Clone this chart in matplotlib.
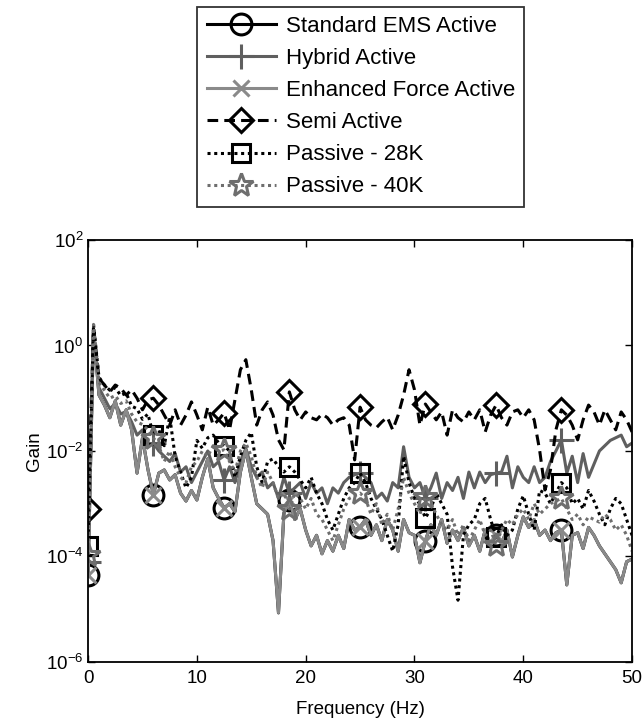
import numpy as np
import matplotlib
matplotlib.use('Agg')
import matplotlib.pyplot as plt

plt.rcParams['font.family'] = ['Liberation Sans', 'DejaVu Sans']
plt.rcParams['mathtext.fontset'] = 'custom'
plt.rcParams['mathtext.rm'] = 'Liberation Sans'
plt.rcParams['mathtext.it'] = 'Liberation Sans:italic'

# frequency axis, 0.5 Hz steps
freq = np.arange(0, 50.01, 0.5)

# log10(gain), one value every 0.5 Hz
standard_ems_log = [
    -4.35, 0.30, -0.94, -1.13, -1.37, -1.05, -1.51, -1.22, -1.60, -2.42,
    -1.75, -2.35, -2.83, -2.42, -2.36, -2.55, -2.45, -2.80, -2.95, -2.75,
    -2.93, -2.50, -2.15, -2.70, -2.90, -3.08, -3.00, -3.15, -2.40, -1.98,
    -2.50, -3.00, -3.10, -3.20, -3.70, -5.07, -3.18, -2.93, -3.30, -3.10,
    -3.50, -3.80, -3.60, -3.95, -3.70, -3.90, -3.60, -3.85, -3.30, -3.50,
    -3.44, -3.30, -3.60, -3.40, -3.70, -3.30, -3.50, -3.90, -3.30, -3.55,
    -3.60, -4.12, -3.70, -3.40, -3.60, -3.30, -3.75, -3.50, -3.70, -3.45,
    -3.80, -3.60, -3.90, -3.50, -3.80, -3.60, -3.75, -3.50, -4.01, -3.60,
    -3.25, -3.45, -3.30, -3.60, -3.50, -3.70, -3.55, -3.50, -4.54, -3.60,
    -3.55, -3.85, -3.45, -3.60, -3.80, -3.95, -4.10, -4.25, -4.50, -4.10,
    -4.05]

hybrid_log = [
    -4.10, 0.30, -0.80, -1.00, -1.20, -1.10, -1.30, -1.25, -1.45, -1.70,
    -1.60, -1.90, -1.85, -2.00, -2.10, -2.20, -2.05, -2.40, -2.30, -2.60,
    -2.40, -2.20, -2.00, -2.30, -2.20, -2.55, -2.30, -2.60, -2.20, -1.95,
    -2.30, -2.50, -2.40, -2.70, -2.60, -2.90, -2.50, -2.80, -2.70, -2.60,
    -2.90, -2.60, -2.80, -2.70, -3.00, -2.70, -2.80, -2.60, -2.50, -2.45,
    -2.42, -2.50, -2.60, -2.90, -2.80, -2.95, -2.60, -2.70, -1.92, -2.50,
    -2.70, -2.60, -2.90, -2.70, -2.42, -2.90, -2.60, -2.75, -2.50, -2.90,
    -2.40, -2.70, -2.40, -2.60, -2.45, -2.42, -2.40, -2.10, -2.70, -2.30,
    -2.50, -2.60, -2.30, -2.60, -2.50, -2.20, -2.00, -1.79, -2.42, -2.10,
    -2.60, -2.05, -2.50, -2.25, -2.00, -1.90, -1.80, -1.75, -1.70, -1.92,
    -1.85]

enhanced_force_log = [
    -4.35, 0.30, -0.94, -1.13, -1.37, -1.05, -1.51, -1.22, -1.60, -2.42,
    -1.75, -2.35, -2.83, -2.42, -2.36, -2.55, -2.45, -2.80, -2.95, -2.75,
    -2.93, -2.50, -2.15, -2.70, -2.90, -3.08, -3.00, -3.15, -2.40, -1.98,
    -2.50, -3.00, -3.10, -3.20, -3.70, -5.07, -3.18, -2.93, -3.30, -3.10,
    -3.50, -3.80, -3.60, -3.95, -3.70, -3.90, -3.60, -3.85, -3.30, -3.50,
    -3.44, -3.30, -3.60, -3.40, -3.70, -3.30, -3.50, -3.90, -3.30, -3.55,
    -3.60, -4.12, -3.70, -3.40, -3.60, -3.30, -3.75, -3.50, -3.70, -3.45,
    -3.80, -3.60, -3.90, -3.50, -3.80, -3.60, -3.75, -3.50, -4.01, -3.60,
    -3.25, -3.45, -3.30, -3.60, -3.50, -3.70, -3.55, -3.50, -4.54, -3.60,
    -3.55, -3.85, -3.45, -3.60, -3.80, -3.95, -4.10, -4.25, -4.50, -4.10,
    -4.05]

semi_active_log = [
    -3.10, 0.35, -0.62, -0.75, -0.88, -0.75, -0.81, -0.94, -0.84, -1.00,
    -1.22, -1.03, -1.00, -1.13, -1.32, -1.51, -1.22, -1.51, -1.32, -1.07,
    -1.32, -1.60, -1.17, -1.51, -1.41, -1.28, -1.60, -1.03, -0.46, -0.27,
    -0.84, -1.51, -1.22, -1.07, -1.32, -1.79, -1.98, -0.88, -1.22, -1.41,
    -1.26, -1.37, -1.41, -1.30, -1.37, -1.51, -1.41, -1.37, -1.51, -2.17,
    -1.17, -1.41, -1.51, -1.56, -1.45, -1.36, -1.60, -1.32, -0.94, -0.46,
    -0.84, -1.51, -1.11, -1.26, -1.41, -1.26, -1.70, -1.22, -1.37, -1.45,
    -1.26, -1.41, -1.22, -1.64, -1.32, -1.13, -1.37, -1.51, -1.26, -1.22,
    -1.37, -1.22, -1.41, -1.98, -2.74, -2.36, -1.60, -1.22, -1.32, -1.51,
    -1.79, -1.41, -1.13, -1.26, -1.51, -1.22, -1.41, -1.60, -1.26, -1.41,
    -1.64]

passive_28k_log = [
    -3.80, 0.40, -0.60, -0.75, -0.85, -0.80, -0.95, -0.90, -1.15, -1.20,
    -1.40, -1.30, -1.70, -1.60, -1.90, -1.35, -2.10, -2.40, -2.70, -2.50,
    -1.80, -1.95, -1.75, -1.70, -1.85, -1.90, -2.00, -2.50, -2.10, -1.80,
    -1.65, -2.30, -2.60, -2.20, -2.15, -2.30, -2.40, -2.30, -2.40, -2.55,
    -2.70, -2.50, -2.80, -3.00, -3.30, -3.50, -3.20, -2.90, -2.70, -2.60,
    -2.42, -2.60, -2.90, -3.10, -3.30, -3.60, -3.90, -3.40, -2.10, -2.60,
    -2.90, -3.00, -3.27, -3.10, -2.80, -3.00, -3.20, -4.20, -4.83, -3.60,
    -3.40, -3.30, -3.00, -2.90, -3.30, -3.63, -3.40, -3.60, -3.50, -3.10,
    -2.85, -3.20, -3.50, -2.75, -2.80, -3.00, -2.80, -2.60, -2.70, -3.00,
    -2.90, -3.10, -2.75, -2.95, -3.20, -3.40, -3.10, -2.90, -3.00, -3.30,
    -3.60]

passive_40k_log = [
    -3.97, 0.40, -0.70, -0.85, -1.00, -0.95, -1.10, -1.05, -1.30, -1.45,
    -1.50, -1.60, -1.75, -1.90, -2.20, -2.00, -2.30, -2.50, -2.60, -2.30,
    -2.20, -2.00, -2.10, -1.90, -2.00, -1.98, -2.20, -2.40, -2.00, -1.85,
    -2.10, -2.50, -2.70, -2.40, -2.60, -2.90, -2.80, -3.10, -2.80, -2.90,
    -3.10, -2.90, -3.20, -3.30, -3.50, -3.70, -3.40, -3.10, -2.90, -2.85,
    -2.80, -2.90, -3.20, -3.00, -3.40, -3.20, -3.50, -3.10, -2.50, -2.80,
    -3.00, -3.20, -2.87, -3.00, -3.20, -3.40, -3.50, -3.30, -3.60, -3.40,
    -3.70, -3.50, -3.30, -3.60, -3.50, -3.78, -3.50, -3.30, -3.40, -3.20,
    -3.10, -3.30, -3.00, -3.20, -3.10, -3.00, -2.95, -2.90, -3.10, -3.30,
    -3.20, -3.40, -3.25, -3.30, -3.35, -3.20, -3.30, -3.50, -3.40, -3.60,
    -3.90]

marker_idx = [0, 12, 25, 37, 50, 62, 75, 87]

fig = plt.figure(figsize=(6.43, 7.25), dpi=100)
ax = fig.add_axes([0.137, 0.087, 0.846, 0.582])

lw = 2.2
ax.plot(freq, 10 ** np.array(standard_ems_log), color='black', lw=lw, marker='o',
        ms=15, mfc='none', mew=2.2, markevery=marker_idx, label='Standard EMS Active')
ax.plot(freq, 10 ** np.array(hybrid_log), color='#5f5f5f', lw=lw, marker='+',
        ms=18, mew=2.2, markevery=marker_idx, label='Hybrid Active')
ax.plot(freq, 10 ** np.array(enhanced_force_log), color='#8a8a8a', lw=lw, marker='x',
        ms=11, mew=2.2, markevery=marker_idx, label='Enhanced Force Active')
ax.plot(freq, 10 ** np.array(semi_active_log), color='black', lw=lw, ls=(0, (3.5, 2)),
        marker='D', ms=12, mfc='none', mew=2.2, markevery=marker_idx, label='Semi Active')
ax.plot(freq, 10 ** np.array(passive_28k_log), color='black', lw=lw, ls=(0, (1, 1.2)),
        marker='s', ms=13, mfc='none', mew=2.2, markevery=marker_idx, label='Passive - 28K')
ax.plot(freq, 10 ** np.array(passive_40k_log), color='#6e6e6e', lw=lw, ls=(0, (1, 1.2)),
        marker='*', ms=18, mfc='none', mew=2.2, markevery=marker_idx, label='Passive - 40K')

ax.set_yscale('log')
ax.set_xlim(0, 50)
ax.set_ylim(1e-6, 1e2)
ax.set_xticks([0, 10, 20, 30, 40, 50])
ax.set_yticks([1e-6, 1e-4, 1e-2, 1e0, 1e2])
ax.set_yticklabels(['$10^{-6}$', '$10^{-4}$', '$10^{-2}$', '$10^{0}$', '$10^{2}$'])
ax.yaxis.set_minor_locator(matplotlib.ticker.NullLocator())
ax.tick_params(direction='in', top=True, right=True, length=5, width=1, labelsize=13.5)
ax.tick_params(axis='x', pad=6)
for s in ax.spines.values():
    s.set_linewidth(1.3)
ax.set_xlabel('Frequency (Hz)', fontsize=13.5, labelpad=10)
ax.set_ylabel('Gain', fontsize=13.5, labelpad=2)

leg = fig.legend(loc='upper center', bbox_to_anchor=(0.561, 0.991), fontsize=16,
                 handlelength=3.1, labelspacing=0.5, borderpad=0.42, handletextpad=0.45,
                 frameon=True, fancybox=False, borderaxespad=0)
leg.get_frame().set_edgecolor('black')
leg.get_frame().set_linewidth(1.3)

fig.savefig('out.png', dpi=100)
